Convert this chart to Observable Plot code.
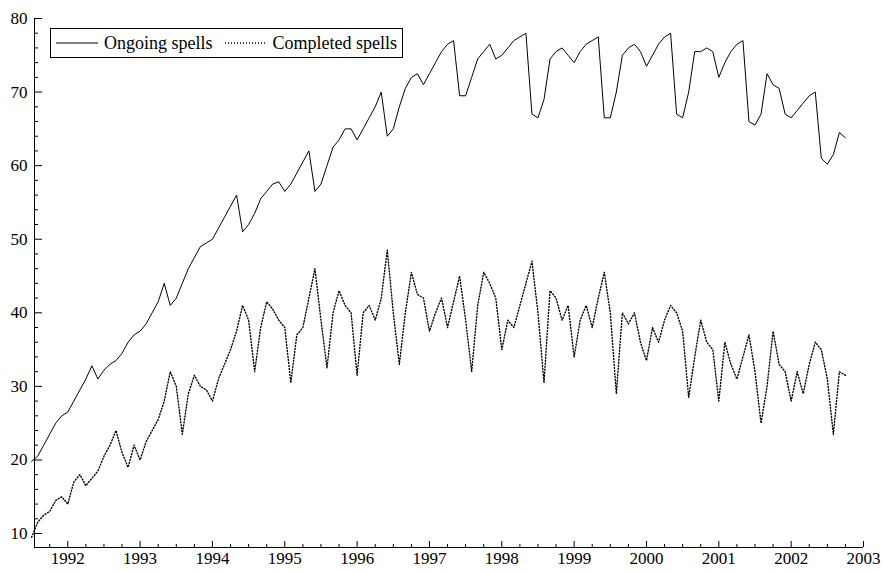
<!DOCTYPE html>
<html>
<head>
<meta charset="utf-8">
<script src="https://cdn.jsdelivr.net/npm/d3@7"></script>
<script src="https://cdn.jsdelivr.net/npm/@observablehq/plot@0.6"></script>
<style>
  body { margin: 0; background: #fff; }
  #chart { position: relative; width: 883px; height: 571px; font-family: "Times New Roman", "Liberation Serif", "DejaVu Serif", serif; }
  #chart svg, #chart svg text { font-family: "Times New Roman", "Liberation Serif", "DejaVu Serif", serif !important; }
  #legend { position: absolute; left: 50px; top: 28px; border: 1px solid #000; background: #fff;
            font-size: 18px; padding: 1px 5px; display: flex; align-items: center; gap: 6px; line-height: 26px; }
</style>
</head>
<body>
<div id="chart">
  <div id="legend">
    <svg width="42" height="10"><line x1="0" y1="5" x2="42" y2="5" stroke="#000" stroke-width="1"/></svg>
    <span>Ongoing spells</span>
    <svg width="42" height="10" style="margin-left:6px"><line x1="0" y1="5" x2="42" y2="5" stroke="#000" stroke-width="1.4" stroke-dasharray="1,2"/></svg>
    <span>Completed spells</span>
  </div>
</div>
<script>
// monthly values starting July 1991
const startYear = 1991.5;

const ongoing = [
  19.8, 20.5, 22, 23.5, 25, 26,
  26.5, 28, 29.5, 31, 32.8, 31, 32.2, 33, 33.5, 34.5, 36, 37,
  37.5, 38.5, 40, 41.5, 44, 41, 42, 44, 46, 47.5, 49, 49.5,
  50, 51.5, 53, 54.5, 56, 51, 52, 53.5, 55.5, 56.5, 57.5, 57.8,
  56.5, 57.5, 59, 60.5, 62, 56.5, 57.5, 60, 62.5, 63.5, 65, 65,
  63.5, 65, 66.5, 68, 70, 64, 65, 68, 70.5, 72, 72.5, 71,
  72.5, 74, 75.5, 76.5, 77, 69.5, 69.5, 72, 74.5, 75.5, 76.5, 74.5,
  75, 76, 77, 77.5, 78, 67, 66.5, 69, 74.5, 75.5, 76, 75,
  74, 75.5, 76.5, 77, 77.5, 66.5, 66.5, 70, 75, 76, 76.5, 75.5,
  73.5, 75, 76.5, 77.5, 78, 67, 66.5, 70, 75.5, 75.5, 76, 75.5,
  72, 74, 75.5, 76.5, 77, 66, 65.5, 67, 72.5, 71, 70.5, 67,
  66.5, 67.5, 68.5, 69.5, 70, 61, 60.2, 61.5, 64.5, 63.8
];

const completed = [
  9.5, 11.5, 12.5, 13, 14.5, 15,
  14, 17, 18, 16.5, 17.5, 18.5, 20.5, 22, 24, 21, 19, 22,
  20, 22.5, 24, 25.5, 28, 32, 30, 23.5, 29, 31.5, 30, 29.5,
  28, 31, 33, 35, 37.5, 41, 39, 32, 38, 41.5, 40.5, 39,
  38, 30.5, 37, 38, 42, 46, 39, 32.5, 40, 43, 41, 40,
  31.5, 40, 41, 39, 42, 48.5, 40, 33, 40, 45.5, 42.5, 42,
  37.5, 40, 42, 38, 41.5, 45, 39, 32, 41, 45.5, 44, 42,
  35, 39, 38, 41, 44, 47, 40, 30.5, 43, 42, 39, 41,
  34, 39, 41, 38, 42, 45.5, 40, 29, 40, 38.5, 40, 36,
  33.5, 38, 36, 39, 41, 40, 37.5, 28.5, 34, 39, 36, 35,
  28, 36, 33, 31, 34, 37, 32, 25, 30, 37.5, 33, 32,
  28, 32, 29, 33, 36, 35, 31, 23.5, 32, 31.5
];

const yearTicks = d3.range(1992, 2004);
const quarterTicks = d3.range(1991.75, 2003.01, 0.25).filter(t => !Number.isInteger(t));
const yMajor = d3.range(10, 81, 10);
const yMinor = d3.range(10, 81, 2).filter(v => v % 10 !== 0);

const rows = (arr) => arr.map((v, i) => ({t: startYear + i / 12, v}));

const W = 883, H = 571;
const mL = 34, mR = 20, mT = 18, mB = 24;
const xDom = [1991.54, 2003], yDom = [8.1, 80];
// pixel lengths converted to data units for inward ticks
const xu = (xDom[1] - xDom[0]) / (W - mL - mR);
const yu = (yDom[1] - yDom[0]) / (H - mT - mB);

const plot = Plot.plot({
  width: W,
  height: H,
  marginLeft: mL, marginRight: mR, marginTop: mT, marginBottom: mB,
  style: {fontFamily: "Times New Roman, Liberation Serif, serif", fontSize: "17px", background: "#fff", color: "#000"},
  x: {domain: xDom, label: null},
  y: {domain: yDom, label: null},
  marks: [
    Plot.axisY({ticks: yMajor, tickSize: 0, tickPadding: 7, label: null, fontSize: 17}),
    Plot.axisX({ticks: yearTicks, tickSize: 0, tickPadding: 4, label: null, fontSize: 17, tickFormat: d => String(d)}),
    Plot.ruleY(yMajor, {x1: xDom[0], x2: xDom[0] + 8 * xu, stroke: "#000"}),
    Plot.ruleY(yMinor, {x1: xDom[0], x2: xDom[0] + 4 * xu, stroke: "#000"}),
    Plot.ruleX(yearTicks, {y1: yDom[0], y2: yDom[0] + 6 * yu, stroke: "#000"}),
    Plot.ruleX(quarterTicks, {y1: yDom[0], y2: yDom[0] + 3 * yu, stroke: "#000"}),
    Plot.ruleX([xDom[0]], {stroke: "#000"}),
    Plot.ruleY([yDom[0]], {stroke: "#000"}),
    Plot.lineY(rows(ongoing), {x: "t", y: "v", stroke: "#000", strokeWidth: 1}),
    Plot.lineY(rows(completed), {x: "t", y: "v", stroke: "#000", strokeWidth: 1.4, strokeDasharray: "1,2"})
  ]
});

document.getElementById("chart").prepend(plot);
</script>
</body>
</html>
